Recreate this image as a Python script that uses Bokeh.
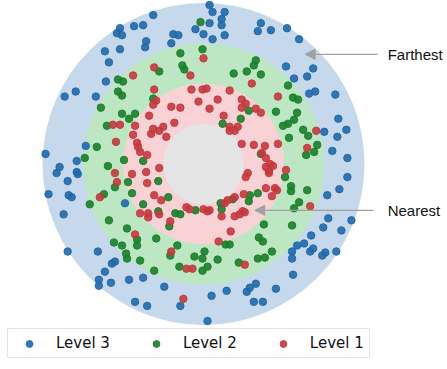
from bokeh.plotting import figure
from bokeh.models import Range1d, Legend, LegendItem, Arrow, NormalHead, Label
from bokeh.embed import file_html
from bokeh.resources import INLINE

# ring radii (distance units) and colours, outermost first
ring_radius = [160, 120, 80, 40]
ring_colors = ["#c6d9ec", "#bde6c3", "#f9d2d5", "#e5e5e5"]

# Level 3 (farthest) points
level3_x = [-50, -69, -60, -83, -86, -81, -57, -58, -98, -83, -94, -97, -127, -138, -107, -30, -25, -32, -8, 0,
            -117, -157, -126,
            6, 9, 21, 18, 18, 6, 9, 21, 57, 54, 67, 83, 95, 82, 109, 90, 103, 105, 111, 131, 134, 142, 120, 133,
            128, 143,
            -143, -146, -126, -125, -135, -154, -134, -131, -139, -78, -135, -105, -91, -88, -98, -104, -104, -92,
            -74, -60, -39, -68, -56, -23,
            143, 135, 123, 147, 124, 119, 137, 107, 100, 93, 109, 106, 121, 118, 132, 88, 88, 89, 52, 46, 43, 72,
            23, 8, 50, 59, 4]
level3_y = [148, 137, 138, 135, 130, 128, 122, 116, 112, 114, 101, 82, 72, 67, 67, 129, 128, 120, 134, 129,
            18, 10, 3,
            158, 151, 151, 144, 138, 140, 124, 128, 140, 132, 133, 135, 124, 97, 95, 85, 87, 70, 72, 69, 45, 34, 32,
            27, 13, 6,
            -3, -9, -8, -10, -17, -30, -31, -33, -50, -39, -87, -87, -99, -97, -107, -115, -121, -118,
            -115, -113, -122, -137, -141, -141,
            -13, -25, -31, -56, -54, -63, -66, -71, -79, -81, -84, -87, -88, -91, -87, -87, -94, -110, -119, -123,
            -127, -124, -126, -131, -137, -137, -156]

# Level 2 points
level2_x = [-3, -1, -23, -21, -19, -44, -85, -80, -85, -81, -102, -81, -68, -74, -96, -106, -118, -79, -60, -50,
            52, 50, 43, 30, 57, 84, 89, 94, 93, 72, 45, 37, 90, 84, 79, 19, 99, 104, 85, 113, 110, 102, 57,
            -95, -75, -88, -99, -113, -71, -45, -35, -60, -45, -28, -23, -8, -94, -76, -34, -66, -47, -89, -81,
            -66, -77, -76, -63, -26, -33, -49, -24, -9, -1, 1, -1,
            81, 87, 87, 103, 95, 90, 54, 46, 45, 29, 17, 18, 60, 88, 55, 59, 22, 26, 14, 68, 61, 54, 35, 4]
level2_y = [141, 114, 110, 98, 94, 92, 84, 82, 72, 68, 56, 50, 50, 45, 38, 17, 6, 4, 3, 65,
            103, 98, 92, 90, 89, 78, 66, 64, 51, 52, 53, 45, 44, 40, 38, 40, 34, 28, 26, 19, 12, 9, 10,
            -2, -18, -23, -30, -40, -29, -17, -33, -40, -47, -49, -50, -46, -56, -64, -62, -75, -74, -78, -81,
            -81, -89, -94, -96, -81, -91, -106, -102, -92, -94, -87, -106,
            -13, -22, -27, -26, -38, -44, -29, -31, -37, -35, -39, -45, -60, -61, -73, -77, -80, -80, -95, -87,
            -93, -94, -98, -102]

# Level 1 (nearest) points
level1_x = [0, -49, -70, -13, -49, -12, -1, -5, -47, -50, -32, -23, -54, -90, -83, -68, -29, -40, -50, -44,
            -52, -70, -37, -87, -66, -65, -63, -56,
            48, 26, 3, 14, 6, 38, 42, 38, 52, 57, 74, 20, 26, 34, 26, 31, 38, 50, 61, 74, 58, 62, 112, 103,
            -44, -88, -71, -57, -86, -56, -103, -49, -42, -63, -55, -55, -44, -33, -17, -14, 0, -68, -32, -17,
            -11, -20,
            66, 69, 62, 65, 65, 44, 42, 82, 62, 71, 73, 68, 40, 31, 24, 21, 4, 6, 39, 41, 36, 31, 18, 106, 27,
            15, 41]
level1_y = [105, 96, 88, 88, 74, 74, 74, 62, 63, 59, 57, 56, 48, 39, 39, 38, 41, 37, 35, 33,
            30, 29, 27, 22, 21, 17, 12, 9,
            80, 73, 75, 64, 55, 64, 60, 56, 55, 51, 67, 48, 37, 37, 33, 33, 20, 19, 18, 20, 11, 6, 33, 16,
            -4, -9, -10, -8, -18, -19, -33, -31, -36, -49, -49, -53, -50, -57, -43, -45, -45, -70, -87, -104,
            -104, -134,
            0, -2, -3, -7, -9, -9, -13, -6, -24, -24, -26, -32, -30, -33, -36, -39, -47, -46, -47, -48, -50,
            -52, -52, -42, -67, -77, -100]

level_names = ["Level 3", "Level 2", "Level 1"]
level_colors = ["#2068a9", "#1b7e2b", "#c23a3f"]

annot_texts = ["Farthest", "Nearest"]
annot_targets_x = [101, 51]
annot_targets_y = [109, -46]
annot_tail_x = [173, 169]
annot_text_x = 183

W, H = 447, 369
CX, CY = 203.0, 163.5   # centre of the rings inside the canvas (from left, from top)
K = 161.0 / 160.0       # pixels per distance unit

p = figure(width=W, height=H, output_backend="svg", toolbar_location=None,
           x_axis_type=None, y_axis_type=None,
           x_range=Range1d(-CX / K, (W - CX) / K), y_range=Range1d(-(H - CY) / K, CY / K),
           min_border=0, outline_line_color=None, background_fill_color="white",
           border_fill_color="white")
p.grid.visible = False

p.circle(x=[0] * len(ring_radius), y=[0] * len(ring_radius), radius=ring_radius,
         fill_color=ring_colors, line_color=None)

renderers = []
for xs, ys, col in [(level3_x, level3_y, level_colors[0]),
                    (level2_x, level2_y, level_colors[1]),
                    (level1_x, level1_y, level_colors[2])]:
    r = p.scatter(xs, ys, size=7.5, fill_color=col, line_color=col, fill_alpha=0.9, line_alpha=0.9)
    renderers.append(r)

for t, tx, ty, sx in zip(annot_texts, annot_targets_x, annot_targets_y, annot_tail_x):
    p.add_layout(Arrow(end=NormalHead(size=10, fill_color="#a0a0a0", line_color="#a0a0a0", line_width=1),
                       x_start=sx, y_start=ty, x_end=tx, y_end=ty,
                       line_color="#a0a0a0", line_width=1.3))
    p.add_layout(Label(x=annot_text_x, y=ty, text=t, text_font="Liberation Sans", text_font_size="15px",
                       text_baseline="middle", text_align="left", text_color="#111111"))

legend = Legend(items=[LegendItem(label=n, renderers=[r]) for n, r in zip(level_names, renderers)],
                orientation="horizontal", location=(7, 11),
                padding=5, spacing=30, glyph_width=32, glyph_height=17, label_height=17,
                label_standoff=11, label_text_font="DejaVu Sans", label_text_font_size="15px",
                label_text_color="#111111",
                border_line_color="#cccccc", border_line_width=1.2,
                background_fill_color="white", background_fill_alpha=1.0)
p.add_layout(legend)

open("out.html", "w").write(file_html(p, INLINE))
